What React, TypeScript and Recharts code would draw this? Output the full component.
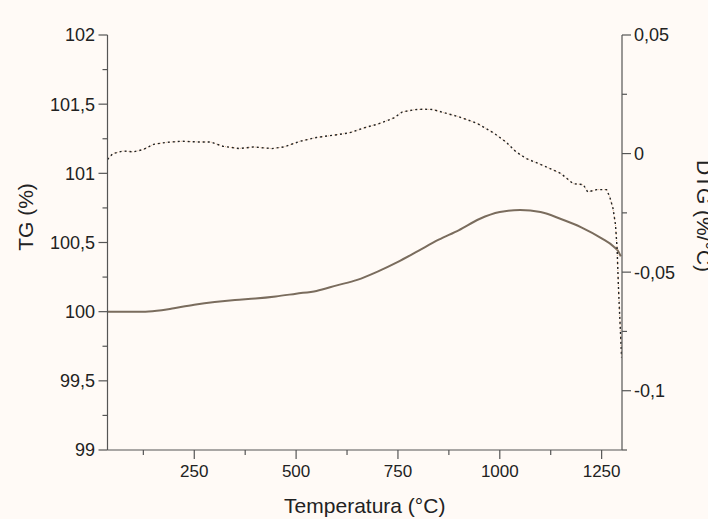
import React from 'react';
import { LineChart, Line, XAxis, YAxis, Label } from 'recharts';

// ---- data ----
const tgTemps = [37, 80, 130, 170, 200, 250, 300, 350, 400, 450, 500, 550, 600, 650, 700, 750, 800, 850, 900, 950, 1000, 1050, 1100, 1150, 1200, 1250, 1280, 1290, 1297];
const tgValues = [100.0, 100.0, 100.0, 100.01, 100.025, 100.05, 100.07, 100.085, 100.095, 100.11, 100.13, 100.15, 100.19, 100.23, 100.29, 100.36, 100.44, 100.52, 100.59, 100.67, 100.72, 100.735, 100.72, 100.67, 100.61, 100.53, 100.47, 100.44, 100.4];

const dtgTemps = [37, 50, 75, 100, 125, 150, 180, 220, 260, 290, 320, 360, 395, 440, 470, 510, 550, 590, 630, 670, 700, 740, 760, 790, 810, 835, 870, 900, 945, 985, 1015, 1040, 1065, 1105, 1150, 1180, 1205, 1216, 1238, 1262, 1270, 1278, 1284, 1288, 1291, 1294, 1297, 1299];
const dtgValues = [-0.0025, 0.0, 0.0011, 0.0007, 0.0017, 0.0039, 0.0047, 0.0052, 0.0049, 0.0049, 0.0031, 0.0021, 0.0028, 0.0021, 0.0028, 0.0052, 0.0068, 0.0077, 0.0087, 0.011, 0.0124, 0.015, 0.0175, 0.0185, 0.0187, 0.0186, 0.0169, 0.0155, 0.0127, 0.0087, 0.0049, 0.0007, -0.0021, -0.0049, -0.0084, -0.0127, -0.0131, -0.0162, -0.0152, -0.0152, -0.0183, -0.0232, -0.03, -0.04, -0.055, -0.067, -0.078, -0.086];

const xTicks = [125, 250, 375, 500, 625, 750, 875, 1000, 1125, 1250];
const leftTicks = [99, 99.25, 99.5, 99.75, 100, 100.25, 100.5, 100.75, 101, 101.25, 101.5, 101.75, 102];
const rightTicks = [-0.125, -0.1, -0.075, -0.05, -0.025, 0, 0.025, 0.05];

const xTitle = 'Temperatura (°C)';
const leftTitle = 'TG (%)';
const rightTitle = 'DTG (%/°C)';

const tgData = tgTemps.map((t, i) => ({ t, v: tgValues[i] }));
const dtgData = dtgTemps.map((t, i) => ({ t, v: dtgValues[i] }));

const FONT = '"Liberation Sans", Arial, sans-serif';
const AXIS = '#555';
const TEXT = '#222';

const fmt = (v: number) => String(Number(v.toFixed(4))).replace('.', ',');
const isMajor = (v: number, step: number) => Math.abs(v / step - Math.round(v / step)) < 1e-6;

const XTick = (props: any) => {
  const { x, y, payload } = props;
  const v = payload.value;
  const major = isMajor(v, 250);
  return (
    <g>
      <line x1={x} y1={y} x2={x} y2={y + (major ? 9 : 5)} stroke={AXIS} strokeWidth={1.2} />
      {major && (
        <text x={x} y={y + 27} textAnchor="middle" fontFamily={FONT} fontSize={17} fill={TEXT}>
          {fmt(v)}
        </text>
      )}
    </g>
  );
};

const LeftTick = (props: any) => {
  const { x, y, payload } = props;
  const v = payload.value;
  const major = isMajor(v, 0.5);
  return (
    <g>
      <line x1={x - (major ? 9 : 5)} y1={y} x2={x} y2={y} stroke={AXIS} strokeWidth={1.2} />
      {major && (
        <text x={x - 12.5} y={y} dy="0.36em" textAnchor="end" fontFamily={FONT} fontSize={18} fill={TEXT}>
          {fmt(v)}
        </text>
      )}
    </g>
  );
};

const RightTick = (props: any) => {
  const { x, y, payload } = props;
  const v = payload.value;
  const major = isMajor(v, 0.05);
  return (
    <g>
      <line x1={x} y1={y} x2={x + (major ? 9 : 5)} y2={y} stroke={AXIS} strokeWidth={1.2} />
      {major && (
        <text x={x + 12} y={y} dy="0.36em" textAnchor="start" fontFamily={FONT} fontSize={18} fill={TEXT}>
          {fmt(v)}
        </text>
      )}
    </g>
  );
};

const XTitle = (props: any) => {
  const vb = props.viewBox;
  return (
    <text x={vb.x + vb.width / 2} y={vb.y + 63} textAnchor="middle" fontFamily={FONT} fontSize={21} fill={TEXT}>
      {xTitle}
    </text>
  );
};

const LeftTitle = (props: any) => {
  const vb = props.viewBox;
  const cx = vb.x + 33;
  const cy = vb.y + vb.height / 2 - 25.5;
  return (
    <text x={cx} y={cy} transform={`rotate(-90 ${cx} ${cy})`} textAnchor="middle" fontFamily={FONT} fontSize={21} fill={TEXT}>
      {leftTitle}
    </text>
  );
};

const RightTitle = (props: any) => {
  const vb = props.viewBox;
  const cx = vb.x + 75;
  const cy = vb.y + vb.height / 2 - 26.5;
  return (
    <text x={cx} y={cy} transform={`rotate(90 ${cx} ${cy})`} textAnchor="middle" fontFamily={FONT} fontSize={21} fill={TEXT}>
      {rightTitle}
    </text>
  );
};

export default function App() {
  return (
    <div style={{ position: 'absolute', left: 0, top: 0, width: 708, height: 519, background: '#fffaf6', overflow: 'hidden' }}>
      <LineChart width={708} height={519} margin={{ top: 35, right: 0, bottom: 0, left: 0 }}>
        <XAxis
          dataKey="t"
          type="number"
          domain={[37, 1300]}
          allowDataOverflow
          ticks={xTicks}
          interval={0}
          height={69}
          tickSize={0}
          tickMargin={0}
          tick={<XTick />}
          axisLine={{ stroke: AXIS, strokeWidth: 1.2 }}
          tickLine={false}
        >
          <Label content={<XTitle />} />
        </XAxis>
        <YAxis
          yAxisId="left"
          orientation="left"
          type="number"
          domain={[99, 102]}
          allowDataOverflow
          ticks={leftTicks}
          interval={0}
          width={107.5}
          tickSize={0}
          tickMargin={0}
          tick={<LeftTick />}
          axisLine={{ stroke: AXIS, strokeWidth: 1.2 }}
          tickLine={false}
        >
          <Label content={<LeftTitle />} />
        </YAxis>
        <YAxis
          yAxisId="right"
          orientation="right"
          type="number"
          domain={[-0.125, 0.05]}
          allowDataOverflow
          ticks={rightTicks}
          interval={0}
          width={86}
          tickSize={0}
          tickMargin={0}
          tick={<RightTick />}
          axisLine={{ stroke: AXIS, strokeWidth: 1.2 }}
          tickLine={false}
        >
          <Label content={<RightTitle />} />
        </YAxis>
        <Line
          yAxisId="left"
          data={tgData}
          dataKey="v"
          type="monotone"
          stroke="#7a6c5d"
          strokeWidth={2}
          dot={false}
          isAnimationActive={false}
        />
        <Line
          yAxisId="right"
          data={dtgData}
          dataKey="v"
          type="linear"
          stroke="#e6b894"
          strokeWidth={1}
          strokeDasharray="1 2"
          dot={false}
          isAnimationActive={false}
        />
        <Line
          yAxisId="right"
          data={dtgData}
          dataKey="v"
          type="linear"
          stroke="#222"
          strokeWidth={1.4}
          strokeDasharray="2 3"
          dot={false}
          isAnimationActive={false}
        />
      </LineChart>
    </div>
  );
}
